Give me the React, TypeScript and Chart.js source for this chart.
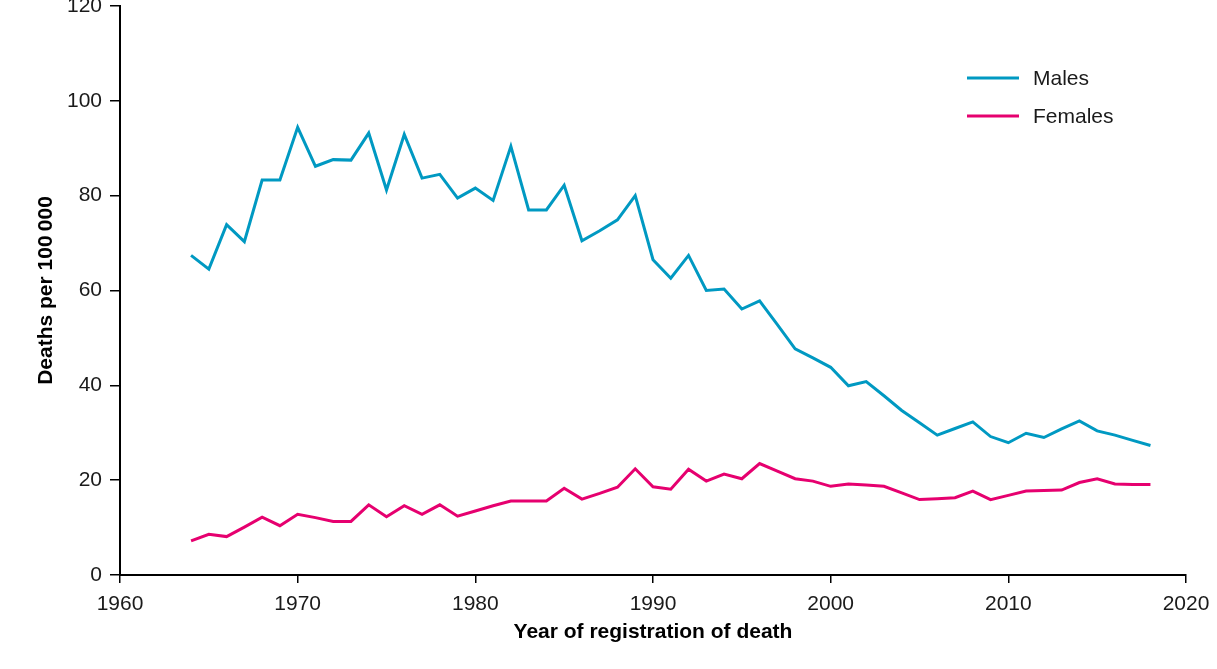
import React, { useEffect, useRef } from "react";
import { Chart, registerables } from "chart.js";

Chart.register(...registerables);

const years: number[] = [
  1964, 1965, 1966, 1967, 1968, 1969, 1970, 1971, 1972, 1973,
  1974, 1975, 1976, 1977, 1978, 1979, 1980, 1981, 1982, 1983,
  1984, 1985, 1986, 1987, 1988, 1989, 1990, 1991, 1992, 1993,
  1994, 1995, 1996, 1997, 1998, 1999, 2000, 2001, 2002, 2003,
  2004, 2005, 2006, 2007, 2008, 2009, 2010, 2011, 2012, 2013,
  2014, 2015, 2016, 2017, 2018,
];

const males: number[] = [
  67.4, 64.5, 73.9, 70.3, 83.3, 83.3, 94.4, 86.2, 87.6, 87.5,
  93.2, 81.2, 92.9, 83.7, 84.5, 79.5, 81.6, 79.0, 90.4, 77.0,
  77.0, 82.2, 70.5, 72.6, 74.9, 80.0, 66.5, 62.6, 67.4, 60.0,
  60.3, 56.1, 57.8, 52.8, 47.7, 45.8, 43.8, 39.9, 40.8, 37.8,
  34.7, 32.1, 29.5, 30.9, 32.3, 29.2, 27.9, 29.9, 29.0, 30.8,
  32.5, 30.4, 29.5, 28.4, 27.3,
];

const females: number[] = [
  7.2, 8.6, 8.1, 10.1, 12.2, 10.4, 12.8, 12.1, 11.3, 11.3,
  14.8, 12.3, 14.6, 12.8, 14.8, 12.4, 13.5, 14.6, 15.6, 15.6,
  15.6, 18.3, 16.0, 17.2, 18.5, 22.4, 18.6, 18.1, 22.3, 19.8,
  21.3, 20.3, 23.5, 21.9, 20.3, 19.8, 18.7, 19.2, 19.0, 18.7,
  17.3, 15.9, 16.1, 16.3, 17.7, 15.9, 16.8, 17.7, 17.8, 17.9,
  19.5, 20.3, 19.2, 19.1, 19.1,
];

const seriesNames: string[] = ["Males", "Females"];
const seriesColors: string[] = ["#0099C2", "#E6006F"];

const xTitle = "Year of registration of death";
const yTitle = "Deaths per 100\u2009000";

const FONT = '"Liberation Sans", Arial, Helvetica, sans-serif';

const legendPlugin = {
  id: "customLegend",
  afterDraw(chart: any) {
    const ctx = chart.ctx as CanvasRenderingContext2D;
    const area = chart.chartArea;
    const x0 = area.right - 219;
    const rows = [area.top + 72, area.top + 110];
    ctx.save();
    seriesNames.forEach((name, i) => {
      const y = rows[i];
      ctx.strokeStyle = seriesColors[i];
      ctx.lineWidth = 3;
      ctx.beginPath();
      ctx.moveTo(x0, y);
      ctx.lineTo(x0 + 52, y);
      ctx.stroke();
      ctx.fillStyle = "#1a1a1a";
      ctx.font = `21px ${FONT}`;
      ctx.textBaseline = "middle";
      ctx.textAlign = "left";
      ctx.fillText(name, x0 + 66, y + 1);
    });
    ctx.restore();
  },
};

export default function App() {
  const ref = useRef<HTMLCanvasElement | null>(null);

  useEffect(() => {
    if (!ref.current) return;
    const toPts = (vals: number[]) => years.map((y, i) => ({ x: y, y: vals[i] }));
    const chart = new Chart(ref.current, {
      type: "line",
      data: {
        datasets: [
          {
            label: seriesNames[0],
            data: toPts(males),
            borderColor: seriesColors[0],
            backgroundColor: seriesColors[0],
            borderWidth: 3,
            pointRadius: 0,
            tension: 0,
          },
          {
            label: seriesNames[1],
            data: toPts(females),
            borderColor: seriesColors[1],
            backgroundColor: seriesColors[1],
            borderWidth: 3,
            pointRadius: 0,
            tension: 0,
          },
        ],
      },
      options: {
        responsive: false,
        animation: false,
        devicePixelRatio: 1,
        layout: { padding: { top: 6, right: 31, bottom: 0, left: 0 } },
        plugins: {
          legend: { display: false },
          tooltip: { enabled: false },
        },
        scales: {
          x: {
            type: "linear",
            min: 1960,
            max: 2020,
            afterFit: (s: any) => {
              s.height = 94;
              s.paddingLeft = 0;
              s.paddingRight = 0;
            },
            ticks: {
              stepSize: 10,
              callback: (v: any) => String(v),
              color: "#1a1a1a",
              font: { size: 21, family: FONT },
              padding: 9,
              maxRotation: 0,
            },
            grid: {
              display: true,
              drawOnChartArea: false,
              drawTicks: true,
              tickLength: 8,
              color: "#000",
              lineWidth: 1.5,
            },
            border: { display: true, color: "#000", width: 2 },
            title: {
              display: true,
              text: xTitle,
              color: "#000",
              font: { size: 21, weight: "bold", family: FONT },
              padding: { top: 0, bottom: 24 },
            },
          },
          y: {
            min: 0,
            max: 120,
            afterFit: (s: any) => {
              s.width = 120;
              s.paddingTop = 0;
              s.paddingBottom = 0;
            },
            ticks: {
              stepSize: 20,
              color: "#1a1a1a",
              font: { size: 21, family: FONT },
              padding: 8,
            },
            grid: {
              display: true,
              drawOnChartArea: false,
              drawTicks: true,
              tickLength: 10,
              color: "#000",
              lineWidth: 1.5,
            },
            border: { display: true, color: "#000", width: 2 },
            title: {
              display: true,
              text: yTitle,
              color: "#000",
              font: { size: 21, weight: "bold", family: FONT },
              padding: { top: 34, bottom: 0 },
            },
          },
        },
      },
      plugins: [legendPlugin],
    });
    return () => chart.destroy();
  }, []);

  return (
    <div style={{ position: "fixed", left: 0, top: 0, width: 1217, height: 669, background: "#fff" }}>
      <canvas ref={ref} width={1217} height={669} style={{ width: 1217, height: 669, display: "block" }} />
    </div>
  );
}
